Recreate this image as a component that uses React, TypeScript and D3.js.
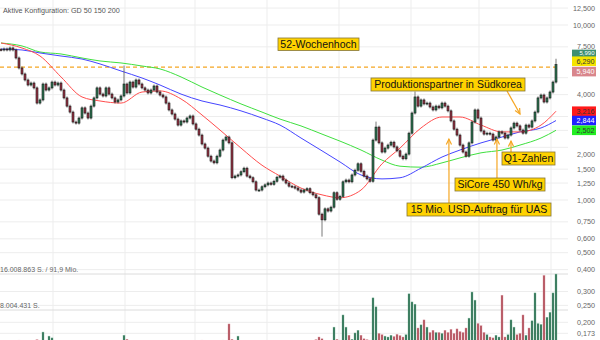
import React from 'react';
import * as d3 from 'd3';

// ---- DATA ----
const closes = [
  7.20, 7.29, 7.20, 7.39, 7.20, 6.48, 5.68, 5.25, 4.85, 4.54,
  4.66, 4.37, 3.58, 3.73, 4.60, 4.25, 4.37, 4.72, 4.54, 4.66,
  4.25, 3.83, 3.44, 3.18, 2.79, 2.75, 2.94, 3.36, 3.14, 2.94,
  3.44, 3.83, 4.37, 4.03, 3.93, 4.37, 4.03, 3.83, 3.63, 3.73,
  3.93, 4.60, 4.09, 4.72, 4.42, 4.85, 4.60, 4.37, 4.25, 4.09,
  4.25, 4.48, 4.14, 3.98, 3.88, 3.58, 3.27, 3.10, 2.90, 2.68,
  2.83, 2.79, 2.94, 3.02, 2.72, 2.54, 2.35, 2.09, 1.98, 1.78,
  1.67, 1.63, 1.78, 1.93, 2.20, 2.29, 2.12, 1.34, 1.37, 1.39,
  1.45, 1.52, 1.37, 1.34, 1.27, 1.14, 1.14, 1.19, 1.22, 1.25,
  1.23, 1.28, 1.35, 1.37, 1.30, 1.25, 1.20, 1.19, 1.17, 1.14,
  1.11, 1.14, 1.16, 1.10, 1.07, 1.03, 0.83, 0.77, 0.89, 0.865,
  0.91, 1.10, 1.01, 1.05, 1.27, 1.30, 1.27, 1.39, 1.48, 1.61,
  1.46, 1.37, 1.32, 1.28, 2.20, 2.61, 2.12, 1.88, 1.98, 2.06,
  2.14, 2.01, 1.91, 1.78, 1.72, 1.83, 2.41, 3.14, 3.88, 3.44,
  3.73, 3.54, 3.58, 3.40, 3.27, 3.44, 3.36, 3.58, 3.44, 3.23,
  2.83, 2.54, 2.35, 2.06, 1.88, 1.78, 2.12, 2.79, 3.27, 2.94,
  2.48, 2.38, 2.41, 2.38, 2.20, 2.29, 2.45, 2.41, 2.26, 2.35,
  2.58, 2.75, 2.65, 2.51, 2.41, 2.68, 2.61, 2.83, 3.18, 3.83,
  3.98, 3.63, 3.83, 4.14, 4.72, 5.94,
];
const firstOpen = 7.25;
const spikeIdx = [41, 107, 125, 138, 185];
const spikeVal = [5.75, 0.63, 2.75, 4.09, 6.29];

// volumes in million shares
const volumes = [
  0.9, 0.8, 0.7, 0.9, 1.0, 1.2, 1.3, 1.1, 0.9, 1.0,
  0.8, 1.0, 1.4, 1.1, 3.1, 1.2, 2.2, 1.8, 1.0, 0.9,
  0.8, 1.0, 1.1, 1.0, 1.2, 0.9, 0.8, 1.1, 0.9, 0.8,
  0.9, 1.0, 1.1, 0.8, 0.9, 0.8, 0.7, 0.8, 0.9, 0.8,
  1.0, 2.4, 1.5, 1.0, 0.9, 0.8, 0.8, 0.9, 0.7, 0.8,
  0.7, 0.8, 0.7, 0.8, 0.9, 1.0, 1.1, 0.9, 0.8, 1.0,
  0.8, 0.7, 0.8, 0.9, 1.0, 1.1, 1.2, 1.3, 1.1, 1.0,
  1.2, 1.0, 0.9, 1.1, 1.3, 1.0, 4.9, 1.5, 1.2, 2.2,
  1.0, 0.9, 0.8, 0.9, 1.0, 1.1, 0.9, 0.8, 0.7, 0.8,
  0.7, 0.8, 0.9, 0.8, 0.7, 0.8, 0.7, 0.8, 0.9, 0.8,
  0.9, 0.8, 1.0, 1.1, 1.2, 1.4, 2.0, 1.6, 1.2, 1.0,
  1.1, 4.2, 1.5, 1.3, 6.9, 4.2, 2.4, 1.5, 2.9, 3.5,
  2.4, 1.6, 1.4, 1.3, 10.7, 8.7, 2.8, 2.5, 2.2, 2.0,
  2.4, 2.1, 2.6, 2.3, 2.0, 2.5, 11.6, 9.8, 9.3, 4.0,
  4.7, 5.8, 4.2, 3.0, 3.5, 3.0, 3.0, 2.8, 3.5, 3.0,
  3.7, 2.8, 3.8, 3.2, 3.0, 4.0, 6.2, 12.0, 10.2, 5.0,
  4.5, 3.0, 2.5, 2.0, 1.8, 2.4, 2.0, 11.3, 2.0, 2.5,
  5.8, 4.2, 2.5, 2.8, 6.9, 2.4, 4.0, 5.6, 11.8, 5.0,
  4.8, 15.7, 6.4, 7.5, 11.8, 16.0,
];
const volMax = 16.008863;

const maIdx = [0, 7, 13, 20, 27, 33, 40, 47, 53, 60, 67, 73, 80, 87, 93, 100, 107, 113, 120, 127, 133, 140, 147, 153, 160, 167, 173, 180, 185];
const ma50 = [7.89, 7.39, 6.65, 5.05, 3.88, 3.68, 3.58, 4.14, 4.20, 3.78, 3.06, 2.51, 1.98, 1.58, 1.37, 1.17, 1.07, 1.03, 1.14, 1.61, 1.98, 2.58, 2.98, 2.98, 2.68, 2.45, 2.45, 2.68, 3.216];
const ma150 = [7.29, 7.20, 6.92, 6.65, 6.39, 5.99, 5.46, 4.98, 4.54, 4.03, 3.68, 3.49, 3.23, 2.94, 2.68, 2.26, 1.91, 1.65, 1.39, 1.32, 1.34, 1.52, 1.76, 1.93, 2.12, 2.29, 2.45, 2.58, 2.844];
const ma200 = [7.89, 7.59, 7.01, 6.83, 6.48, 6.23, 6.07, 5.83, 5.61, 5.05, 4.42, 3.98, 3.54, 3.18, 2.90, 2.65, 2.38, 2.17, 1.93, 1.69, 1.56, 1.54, 1.63, 1.74, 1.86, 1.93, 2.06, 2.26, 2.502];

const priceTicks = [12.5, 10, 7.5, 5, 4, 3, 2.5, 2, 1.5, 1.25, 1, 0.75, 0.6, 0.5, 0.4, 0.3, 0.25, 0.2, 0.173];
const timeGridIdx = [17.33, 41.33, 64.67, 88.67, 112.67, 136.67, 159.33, 183.33];
const high52 = 5.75;

const lastVals = [5.99, 6.29, 5.94, 3.216, 2.844, 2.502];

const noteTexts = ['Produktionspartner in Südkorea', '15 Mio. USD-Auftrag für UAS', 'SiCore 450 Wh/kg', 'Q1-Zahlen'];
const noteIdx = [173, 149.3, 165.3, 170];
const noteVal = [3.10, 2.23, 2.23, 2.17];

// ---- LAYOUT / STYLE ----
const W = 600, H = 340;
const FONT = '"Liberation Sans", Arial, sans-serif';
const lastStyle = [
  { fill: '#3d8f72', text: '#fff', dy: -9.5 },
  { fill: '#f5e400', text: '#333', dy: 1 },
  { fill: '#d9868c', text: '#fff', dy: 7 },
  { fill: '#ff1a1a', text: '#333', dy: 0 },
  { fill: '#2020ff', text: '#fff', dy: 0 },
  { fill: '#22ee22', text: '#333', dy: 0 },
];
const noteBoxes = [
  { x: 371, y: 78, w: 154, from: [507, 91] },
  { x: 407, y: 203, w: 144, from: [449, 203] },
  { x: 455, y: 178, w: 90, from: [497, 178] },
  { x: 502, y: 152, w: 53, from: [511, 152] },
];

const fmt = (v: number) => v.toFixed(3).replace('.', ',');

export default function App() {
  const y = d3.scaleLog().domain([1, 10]).range([200, 25]);
  const x = d3.scaleLinear().domain([0, closes.length - 1]).range([1, 556]);
  const vy = d3.scaleLinear().domain([0, volMax]).range([346, 274]);

  const maLine = d3
    .line<number>()
    .x((_, i) => x(maIdx[i]))
    .y((d) => y(d))
    .curve(d3.curveMonotoneX);

  const candles = closes.map((c, i) => {
    const o = i === 0 ? firstOpen : closes[i - 1];
    let hi = Math.max(o, c);
    let lo = Math.min(o, c);
    const s = spikeIdx.indexOf(i);
    if (s >= 0) {
      if (spikeVal[s] > hi) hi = spikeVal[s];
      else if (spikeVal[s] < lo) lo = spikeVal[s];
    }
    return { i, o, c, hi, lo, up: c >= o };
  });

  const boxCenters = lastVals.map((v, k) => y(v) + lastStyle[k].dy);
  const tickLabels = priceTicks
    .map((t) => ({ t, py: y(t) + (t === 2 ? 7 : 0) }))
    .filter((d) => boxCenters.every((c) => Math.abs(c - d.py) > 7));

  return (
    <svg width={W} height={H} style={{ position: 'absolute', left: 0, top: 0, background: '#fff' }} fontFamily={FONT}>
      <defs>
        <clipPath id="plot">
          <rect x={0} y={0} width={559} height={H} />
        </clipPath>
      </defs>
      {/* grid */}
      {priceTicks.map((t) => (
        <line key={'g' + t} x1={0} x2={568} y1={y(t)} y2={y(t)} stroke="#ededed" strokeWidth={1} />
      ))}
      {timeGridIdx.map((t) => (
        <line key={'v' + t} x1={x(t)} x2={x(t)} y1={0} y2={H} stroke="#ededed" strokeWidth={1} />
      ))}
      {/* volume reference lines */}
      <line x1={0} x2={568} y1={vy(volMax)} y2={vy(volMax)} stroke="#dcdcdc" />
      <line x1={0} x2={568} y1={vy(volMax / 2)} y2={vy(volMax / 2)} stroke="#dcdcdc" />
      <text x={0} y={vy(volMax) - 2.5} fontSize={7} fill="#666">16.008.863 S. / 91,9 Mio.</text>
      <text x={0} y={vy(volMax / 2) - 2.5} fontSize={7} fill="#666">8.004.431 S.</text>

      {/* volume bars */}
      <g clipPath="url(#plot)">
        {volumes.map((v, i) => {
          const up = candles[i].up;
          return (
            <rect
              key={'vb' + i}
              x={x(i) - 1}
              y={vy(v)}
              width={2}
              height={346 - vy(v)}
              fill={up ? '#2b7052' : '#b24f5b'}
              stroke={up ? '#8dbfa7' : '#dc9ca4'}
              strokeWidth={0.4}
            />
          );
        })}
      </g>

      {/* 52 week high */}
      <line x1={0} x2={557} y1={y(high52)} y2={y(high52)} stroke="#f5a623" strokeWidth={1.3} strokeDasharray="4,3" />

      {/* moving averages */}
      <g clipPath="url(#plot)" fill="none" strokeWidth={1}>
        <path d={maLine(ma200) || ''} stroke="#3fe03f" />
        <path d={maLine(ma150) || ''} stroke="#4545ff" />
        <path d={maLine(ma50) || ''} stroke="#ff4d4d" />
      </g>

      {/* candles */}
      <g clipPath="url(#plot)">
        {candles.map((d) => {
          const cx = x(d.i);
          const yt = y(Math.max(d.o, d.c));
          const yb = y(Math.min(d.o, d.c));
          return (
            <g key={'c' + d.i}>
              <line x1={cx} x2={cx} y1={y(d.hi) - 1.5} y2={y(d.lo) + 1.5} stroke="#555" strokeWidth={0.8} />
              <rect
                x={cx - 1}
                y={yt}
                width={2}
                height={Math.max(1, yb - yt)}
                fill={d.up ? '#2f7a55' : '#9c3646'}
                stroke="#151515"
                strokeWidth={0.6}
              />
            </g>
          );
        })}
      </g>

      {/* annotations */}
      <g>
        <rect x={278} y={38} width={81} height={12.5} fill="#ffd200" stroke="#857638" strokeWidth={0.8} />
        <text x={318.5} y={48} fontSize={10.5} textAnchor="middle" fill="#111">52-Wochenhoch</text>
        {noteTexts.map((t, k) => {
          const b = noteBoxes[k];
          const tx = x(noteIdx[k]);
          const ty = y(noteVal[k]);
          const [fx, fy] = b.from;
          const ang = Math.atan2(ty - fy, tx - fx);
          const a1 = ang + Math.PI - 0.45;
          const a2 = ang + Math.PI + 0.45;
          const L = 6;
          return (
            <g key={'n' + k}>
              <line x1={fx} y1={fy} x2={tx} y2={ty} stroke="#f5a623" strokeWidth={1.2} />
              <polyline
                points={`${tx + L * Math.cos(a1)},${ty + L * Math.sin(a1)} ${tx},${ty} ${tx + L * Math.cos(a2)},${ty + L * Math.sin(a2)}`}
                fill="none"
                stroke="#f5a623"
                strokeWidth={1.2}
              />
              <rect x={b.x} y={b.y} width={b.w} height={13} fill="#ffd200" stroke="#857638" strokeWidth={0.8} />
              <text x={b.x + b.w / 2} y={b.y + 10.3} fontSize={10.5} textAnchor="middle" fill="#111">{t}</text>
            </g>
          );
        })}
      </g>

      {/* right axis labels */}
      {tickLabels.map((d) => (
        <text key={'t' + d.t} x={595} y={d.py} dy="0.35em" fontSize={7.2} textAnchor="end" fill="#666">
          {fmt(d.t)}
        </text>
      ))}
      {lastVals.map((v, k) => {
        const s = lastStyle[k];
        const cy = boxCenters[k];
        return (
          <g key={'lv' + k}>
            <rect x={572} y={cy - 4.8} width={24} height={9.6} fill={s.fill} />
            {k === 0 ? (
              <text x={594.5} y={cy - 1.5} dy="0.35em" fontSize={6} textAnchor="end" fill={s.text}>
                {fmt(v)}
              </text>
            ) : (
              <text x={594.5} y={cy} dy="0.35em" fontSize={7.2} textAnchor="end" fill={s.text}>
                {fmt(v)}
              </text>
            )}
          </g>
        );
      })}

      <text x={3} y={13} fontSize={7.2} fill="#555">Aktive Konfiguration: GD 50 150 200</text>
    </svg>
  );
}
